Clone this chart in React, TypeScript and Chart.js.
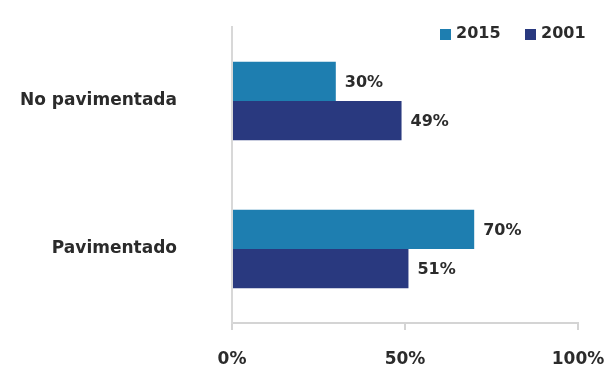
import React, { useEffect, useRef } from "react";
import { Chart, registerables } from "chart.js";

Chart.register(...registerables);

const categories = ["No pavimentada", "Pavimentado"];
const seriesNames = ["2015", "2001"];
const values2015 = [30, 70];
const values2001 = [49, 51];
const xTicks = [0, 50, 100];

const COLORS = ["#1e7eb0", "#29397f"];
const FONT = "'DejaVu Sans', sans-serif";
const TEXT = "#2b2b2b";

const valueLabels = {
  id: "valueLabels",
  afterDatasetsDraw(chart: any) {
    const ctx = chart.ctx;
    ctx.save();
    ctx.font = `bold 16px ${FONT}`;
    ctx.fillStyle = TEXT;
    ctx.textBaseline = "middle";
    ctx.textAlign = "left";
    chart.data.datasets.forEach((ds: any, i: number) => {
      const meta = chart.getDatasetMeta(i);
      meta.data.forEach((el: any, j: number) => {
        ctx.fillText(ds.data[j] + "%", el.x + 9, el.y + 1);
      });
    });
    ctx.restore();
  },
};

const customLegend = {
  id: "customLegend",
  afterDraw(chart: any) {
    const ctx = chart.ctx;
    ctx.save();
    ctx.font = `bold 16px ${FONT}`;
    ctx.textBaseline = "middle";
    ctx.textAlign = "left";
    const starts = [440, 525];
    const y = 34;
    chart.data.datasets.forEach((ds: any, i: number) => {
      const x = starts[i];
      ctx.fillStyle = ds.backgroundColor;
      ctx.fillRect(x, y - 5, 11, 11);
      ctx.fillStyle = TEXT;
      ctx.fillText(ds.label, x + 16, y);
    });
    ctx.restore();
  },
};

export default function App() {
  const ref = useRef<HTMLCanvasElement | null>(null);
  useEffect(() => {
    if (!ref.current) return;
    const chart = new Chart(ref.current, {
      type: "bar",
      data: {
        labels: categories,
        datasets: [
          { label: seriesNames[0], data: values2015, backgroundColor: COLORS[0] },
          { label: seriesNames[1], data: values2001, backgroundColor: COLORS[1] },
        ],
      },
      options: {
        indexAxis: "y",
        animation: false,
        responsive: false,
        maintainAspectRatio: false,
        layout: { padding: { top: 27, right: 38, left: 0, bottom: 0 } },
        datasets: { bar: { categoryPercentage: 0.53, barPercentage: 1 } },
        plugins: { legend: { display: false }, tooltip: { enabled: false } },
        scales: {
          x: {
            min: 0,
            max: 100,
            afterBuildTicks(scale: any) {
              scale.ticks = xTicks.map((v) => ({ value: v }));
            },
            afterFit(scale: any) {
              scale.height = 42;
              scale.paddingLeft = 0;
              scale.paddingRight = 0;
            },
            grid: { drawOnChartArea: false, drawTicks: true, tickLength: 7, color: "#d4d4d4", lineWidth: 2 },
            border: { display: true, color: "#d4d4d4", width: 2 },
            ticks: {
              padding: 19,
              color: TEXT,
              font: { family: FONT, weight: "bold", size: 17 },
              callback: (v: any) => v + "%",
              maxRotation: 0,
            },
          },
          y: {
            afterFit(scale: any) {
              scale.width = 232;
              scale.paddingTop = 0;
              scale.paddingBottom = 0;
            },
            grid: { display: false },
            border: { display: true, color: "#d8d8d8", width: 2 },
            ticks: {
              padding: 47,
              color: TEXT,
              font: { family: FONT, weight: "bold", size: 17 },
            },
          },
        },
      },
      plugins: [valueLabels, customLegend],
    });
    return () => chart.destroy();
  }, []);
  return (
    <div style={{ position: "fixed", left: 0, top: 0, width: 616, height: 365, background: "#fff" }}>
      <canvas ref={ref} width={616} height={365} />
    </div>
  );
}
